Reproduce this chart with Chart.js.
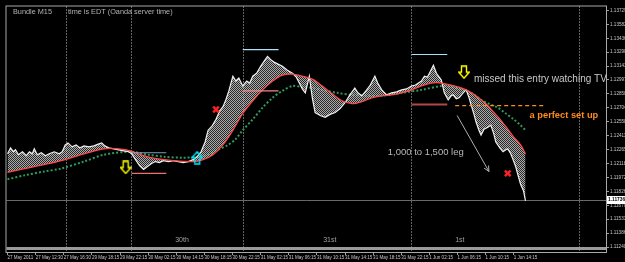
<!DOCTYPE html>
<html>
<head>
<meta charset="utf-8">
<script src="https://cdn.jsdelivr.net/npm/chart.js@4.4.0/dist/chart.umd.min.js"></script>
<style>
html, body { margin: 0; padding: 0; background: #000; }
#wrap { width: 625px; height: 262px; }
</style>
</head>
<body>
<div id="wrap"><canvas id="chart" width="625" height="262"></canvas></div>
<script>
// x axis: one label every 16 bars (M15 chart)
const timeLabels = ["27 May 2011", "27 May 12:30", "27 May 16:30", "29 May 18:15", "29 May 22:15",
    "30 May 02:15", "30 May 14:15", "30 May 18:15", "30 May 22:15", "31 May 02:15", "31 May 06:15",
    "31 May 10:15", "31 May 14:15", "31 May 18:15", "31 May 22:15", "1 Jun 02:15", "1 Jun 06:15",
    "1 Jun 10:15", "1 Jun 14:15"];
const priceTicks = [1.11240, 1.11386, 1.11533, 1.11679, 1.11826, 1.11972, 1.12118, 1.12265, 1.12411,
    1.12558, 1.12704, 1.12850, 1.12997, 1.13143, 1.13290, 1.13436, 1.13582, 1.13729];

// price (fast line) - bar index / price
const priceBars = [0, 1.7, 3.4, 4.5, 6.2, 8.5, 10.7, 12.4, 14.1, 15.2, 16.9, 19.2, 21.5, 23.7, 26.5, 29.4,
    31.1, 32.8, 34.4, 36.7, 39, 41.2, 43.5, 46.3, 49.1, 52, 53.6, 55.3, 57.6, 60.4, 63.2, 66.1, 68.9, 70.6,
    72.8, 75.1, 77.4, 79.6, 81.9, 84.1, 86.4, 88.7, 91.5, 94.3, 97.1, 100, 102.8, 105.6, 107.9, 110.1, 112.4,
    114.1, 116.3, 118.6, 120.8, 122.6, 124.2, 125.9, 128.2, 129.9, 131.6, 133.8, 136.1, 137.8, 139.5, 141.7,
    144, 146.3, 147.9, 149.6, 151.9, 154.2, 156.4, 159.2, 162.1, 164.3, 166, 167.7, 169.4, 171.7, 173.4, 175,
    177.9, 180.7, 183.5, 186.4, 189.2, 192, 194.8, 197.6, 199.3, 201.6, 203.9, 206.1, 209, 210.6, 212.9,
    215.7, 218.5, 221.4, 224.2, 227, 229.8, 232.1, 233.8, 235.5, 237.2, 238.9, 240.6, 242.3, 244, 245.6,
    246.8, 248.5, 250.7, 252.4, 253.5, 255.3, 256.9, 259.2, 260.9, 262.6, 263.7, 265.4, 266.6, 268.2, 269.4,
    271.1, 273.3, 275, 276.7, 277.8, 280.1, 281.9, 283.5, 284.6, 286.3, 287.4, 289.1, 290.3, 291.9, 293.6, 294.7];
const priceVals = [1.12221, 1.12283, 1.12242, 1.12263, 1.12211, 1.12242, 1.12201, 1.12242, 1.12221, 1.12273,
    1.12211, 1.12232, 1.12201, 1.12221, 1.12242, 1.12221, 1.12242, 1.12314, 1.12335, 1.12294, 1.12314,
    1.12283, 1.12304, 1.12294, 1.12304, 1.12325, 1.12335, 1.12304, 1.12283, 1.12273, 1.12263, 1.12252,
    1.12242, 1.12221, 1.12159, 1.12097, 1.12056, 1.12087, 1.12118, 1.12139, 1.12128, 1.12149, 1.12139,
    1.12149, 1.12139, 1.12128, 1.12139, 1.12159, 1.12190, 1.12242, 1.12345, 1.12469, 1.12511, 1.12583,
    1.12676, 1.12717, 1.12789, 1.12882, 1.13037, 1.12986, 1.13017, 1.12934, 1.12986, 1.12965, 1.13037,
    1.13068, 1.13141, 1.13203, 1.13244, 1.13213, 1.13182, 1.13161, 1.13141, 1.13099, 1.13068, 1.13027,
    1.12965, 1.12903, 1.12862, 1.13037, 1.12810, 1.12655, 1.12624, 1.12604, 1.12635, 1.12655, 1.12697,
    1.12758, 1.12841, 1.12913, 1.12862, 1.12831, 1.12882, 1.12934, 1.13037, 1.12965, 1.12893, 1.12841,
    1.12862, 1.12872, 1.12893, 1.12903, 1.12934, 1.12944, 1.12965, 1.12986, 1.13037, 1.13027, 1.13089,
    1.13151, 1.13068, 1.13027, 1.12996, 1.12862, 1.12789, 1.12831, 1.12841, 1.12800, 1.12810, 1.12862,
    1.12893, 1.12810, 1.12738, 1.12635, 1.12552, 1.12469, 1.12418, 1.12480, 1.12500, 1.12521, 1.12428,
    1.12345, 1.12283, 1.12242, 1.12263, 1.12273, 1.12221, 1.12170, 1.12087, 1.12004, 1.11901, 1.11829, 1.11726];

// slow red average
const redBars = [0, 9.6, 20.9, 30.5, 43.5, 54.8, 63.2, 70, 77.4, 84.7, 94.3, 105.6, 111.2, 116.9, 122.5,
    128.2, 133.8, 139.5, 145.1, 150.8, 156.4, 162.1, 167.7, 173.4, 179, 184.7, 190.3, 196, 201.6, 207.2,
    212.9, 218.5, 224.2, 229.8, 235.5, 241.1, 246.8, 254.1, 260.9, 264.8, 269.4, 273.3, 276.7, 280.7, 284.6,
    288, 291.9, 294.7];
const redVals = [1.12025, 1.12066, 1.12108, 1.12149, 1.12221, 1.12273, 1.12273, 1.12252, 1.12201, 1.12170,
    1.12149, 1.12139, 1.12159, 1.12211, 1.12314, 1.12469, 1.12645, 1.12779, 1.12893, 1.12986, 1.13048,
    1.13058, 1.13037, 1.13006, 1.12934, 1.12851, 1.12779, 1.12748, 1.12769, 1.12810, 1.12831, 1.12841,
    1.12862, 1.12893, 1.12934, 1.12965, 1.12965, 1.12934, 1.12893, 1.12851, 1.12789, 1.12727, 1.12655,
    1.12573, 1.12480, 1.12397, 1.12314, 1.12221];

// green dotted average
const greenBars = [0, 9.6, 20.9, 30.5, 43.5, 54.8, 70, 80.2, 88.7, 100, 108.4, 114.1, 119.7, 125.4, 129.3,
    133.8, 139.5, 145.1, 150.8, 156.4, 162.1, 167.7, 173.4, 179, 187.5, 196, 204.4, 212.9, 224.2, 235.5,
    246.8, 252.4, 259.7, 264.8, 269.4, 275, 278.9, 283.5, 288, 291.9, 294.7];
const greenVals = [1.11953, 1.11994, 1.12035, 1.12066, 1.12139, 1.12211, 1.12242, 1.12211, 1.12190, 1.12180,
    1.12190, 1.12211, 1.12263, 1.12314, 1.12366, 1.12469, 1.12583, 1.12707, 1.12810, 1.12882, 1.12934,
    1.12924, 1.12913, 1.12893, 1.12862, 1.12841, 1.12831, 1.12831, 1.12862, 1.12893, 1.12934, 1.12924,
    1.12893, 1.12851, 1.12789, 1.12738, 1.12707, 1.12645, 1.12583, 1.12521, 1.12469];

// hand drawn levels
const levelFrom = [70.6, 70.6, 133.8, 133.8, 229.8, 229.8, 254.7];
const levelTo = [90.3, 90.3, 154.2, 154.2, 250.2, 250.2, 306.1];
const levelPrice = [1.12232, 1.12015, 1.13316, 1.12882, 1.13265, 1.12738, 1.12727];
const levelColors = ["#7f9fb8", "#f07070", "#a8e0f8", "#f08888", "#a8e0f8", "#b04848", "#ff8c1a"];

const crossBars = [118.6, 284.6];
const crossVals = [1.12686, 1.12015];
const downBars = [67.2, 259.7];
const downVals = [1.12077, 1.13079];
const upBars = [107.9];
const upVals = [1.12180];

const separatorBars = [33.3, 70.0, 133.8, 229.8, 325.2];
const dayNames = ["30th", "31st", "1st"];
const dayBars = [95.4, 179.6, 254.7];

const noteTexts = ["missed this entry watching TV", "a perfect set up", "1,000 to 1,500 leg"];
const noteBars = [265.4, 297.0, 216.3];
const noteVals = [1.13006, 1.12624, 1.12232];

const legFrom = [255.8, 1.12624];
const legTo = [273.9, 1.12035];
const lastPrice = 1.11736;

const FONT = "'Liberation Sans', Arial, sans-serif";

function pts(xs, ys) {
    return xs.map((x, i) => ({ x: x, y: ys[i] }));
}

function arrowIcon(color, up) {
    const c = document.createElement("canvas");
    c.width = 12; c.height = 14;
    const g = c.getContext("2d");
    if (up) { g.translate(0, 14); g.scale(1, -1); }
    g.strokeStyle = color;
    g.lineWidth = 1.4;
    g.beginPath();
    g.moveTo(3.5, 1); g.lineTo(8.5, 1); g.lineTo(8.5, 7); g.lineTo(11.3, 7);
    g.lineTo(6, 13); g.lineTo(0.7, 7); g.lineTo(3.5, 7); g.closePath();
    g.stroke();
    return c;
}

// ribbon texture: thin light strands close together
function ribbonPattern() {
    const c = document.createElement("canvas");
    c.width = 4; c.height = 4;
    const g = c.getContext("2d");
    g.fillStyle = "rgba(80,80,80,0.5)";
    g.fillRect(0, 0, 4, 4);
    g.fillStyle = "rgba(215,215,215,0.75)";
    for (let i = 0; i < 4; i++) g.fillRect(i, (i + 1) % 4, 1, 1);
    for (let i = 0; i < 4; i++) g.fillRect(i, (i + 3) % 4, 1, 1);
    return g.createPattern(c, "repeat");
}

const levelSets = levelFrom.map((f, i) => ({
    data: [{ x: f, y: levelPrice[i] }, { x: levelTo[i], y: levelPrice[i] }],
    borderColor: levelColors[i],
    borderWidth: i === 5 ? 2 : 1.2,
    borderDash: i === 6 ? [4, 3] : [],
    pointRadius: 0,
    order: 2
}));

const decor = {
    id: "decor",
    beforeDatasetsDraw(chart) {
        const { ctx, chartArea: a, scales: { x, y } } = chart;
        ctx.save();
        // day separators
        ctx.strokeStyle = "#c8c8c8";
        ctx.lineWidth = 1;
        ctx.setLineDash([1, 2]);
        separatorBars.forEach(b => {
            const px = Math.round(x.getPixelForValue(b)) + 0.5;
            ctx.beginPath(); ctx.moveTo(px, a.top); ctx.lineTo(px, a.bottom); ctx.stroke();
        });
        ctx.setLineDash([]);
        // current price line
        const py = Math.round(y.getPixelForValue(lastPrice)) + 0.5;
        ctx.strokeStyle = "#6a6a6a";
        ctx.beginPath(); ctx.moveTo(a.left, py); ctx.lineTo(a.right, py); ctx.stroke();
        // bottom separator bar
        ctx.fillStyle = "#9a9a9a";
        ctx.fillRect(a.left, a.bottom - 5, a.right - a.left, 3);
        // day names
        ctx.fillStyle = "#a0a0a0";
        ctx.font = "7px " + FONT;
        ctx.textBaseline = "middle";
        dayNames.forEach((d, i) => ctx.fillText(d, x.getPixelForValue(dayBars[i]), 240));
        ctx.restore();
    },
    afterDatasetsDraw(chart) {
        const { ctx, chartArea: a, scales: { x, y } } = chart;
        ctx.save();
        // frame
        ctx.strokeStyle = "#a8a8a8";
        ctx.lineWidth = 1;
        ctx.strokeRect(a.left - 0.5, a.top - 0.5, a.right - a.left + 1, a.bottom - a.top + 1);
        // titles
        ctx.fillStyle = "#b4b4b4";
        ctx.font = "7.3px " + FONT;
        ctx.textBaseline = "middle";
        ctx.fillText("Bundle M15", 13, 12);
        ctx.fillText("time is EDT (Oanda server time)", 68, 12);
        // notes
        const styles = [
            { font: "10px " + FONT, color: "#c8c8c8" },
            { font: "bold 9.3px " + FONT, color: "#ff8c1a" },
            { font: "9.5px " + FONT, color: "#b8b8b8" }
        ];
        noteTexts.forEach((t, i) => {
            ctx.font = styles[i].font;
            ctx.fillStyle = styles[i].color;
            ctx.fillText(t, x.getPixelForValue(noteBars[i]), y.getPixelForValue(noteVals[i]));
        });
        // leg arrow
        const x1 = x.getPixelForValue(legFrom[0]), y1 = y.getPixelForValue(legFrom[1]);
        const x2 = x.getPixelForValue(legTo[0]), y2 = y.getPixelForValue(legTo[1]);
        ctx.strokeStyle = "#b0b0b0";
        ctx.lineWidth = 1;
        ctx.beginPath(); ctx.moveTo(x1, y1); ctx.lineTo(x2, y2); ctx.stroke();
        const ang = Math.atan2(y2 - y1, x2 - x1);
        ctx.beginPath();
        ctx.moveTo(x2 - 6 * Math.cos(ang - 0.45), y2 - 6 * Math.sin(ang - 0.45));
        ctx.lineTo(x2, y2);
        ctx.lineTo(x2 - 6 * Math.cos(ang + 0.45), y2 - 6 * Math.sin(ang + 0.45));
        ctx.stroke();
        // current price box
        const py = Math.round(y.getPixelForValue(lastPrice));
        ctx.fillStyle = "#ffffff";
        ctx.fillRect(a.right + 1, py - 4, 625 - a.right - 1, 8);
        ctx.fillStyle = "#000";
        ctx.font = "bold 4.8px " + FONT;
        ctx.fillText(lastPrice.toFixed(5), a.right + 2, py);
        ctx.restore();
    }
};

new Chart(document.getElementById("chart"), {
    type: "line",
    data: {
        datasets: [
            {
                data: pts(priceBars, priceVals),
                borderColor: "#f0f0f0",
                borderWidth: 1.2,
                pointRadius: 0,
                fill: 1,
                backgroundColor: ribbonPattern(),
                order: 4
            },
            {
                data: pts(redBars, redVals),
                borderColor: "#ff4a4a",
                borderWidth: 1.3,
                pointRadius: 0,
                tension: 0.3,
                order: 3
            },
            {
                data: pts(greenBars, greenVals),
                borderColor: "#2f9a5c",
                borderWidth: 2,
                borderDash: [2, 2],
                pointRadius: 0,
                tension: 0.3,
                order: 5
            },
            ...levelSets,
            {
                type: "scatter",
                data: pts(crossBars, crossVals),
                pointStyle: "crossRot",
                pointRadius: 4,
                borderColor: "#ff2020",
                borderWidth: 2.5,
                order: 1
            },
            {
                type: "scatter",
                data: pts(downBars, downVals),
                pointStyle: arrowIcon("#ffff00", false),
                order: 1
            },
            {
                type: "scatter",
                data: pts(upBars, upVals),
                pointStyle: arrowIcon("#00e5ff", true),
                order: 1
            }
        ]
    },
    options: {
        responsive: false,
        animation: false,
        layout: { padding: { left: 2, top: 2, right: 0, bottom: 0 } },
        plugins: { legend: { display: false }, tooltip: { enabled: false } },
        scales: {
            x: {
                type: "linear",
                min: -0.6,
                max: 340.5,
                afterFit: s => { s.height = 10; },
                afterBuildTicks: s => { s.ticks = timeLabels.map((t, i) => ({ value: i * 16 })); },
                ticks: {
                    autoSkip: false,
                    maxRotation: 0,
                    align: "start",
                    padding: 0,
                    color: "#c8c8c8",
                    font: { family: FONT, size: 4.5 },
                    callback: (v, i) => timeLabels[i]
                },
                grid: { drawOnChartArea: false, tickLength: 3, color: "#a0a0a0" },
                border: { display: false }
            },
            y: {
                position: "right",
                min: 1.11188,
                max: 1.13770,
                afterFit: s => { s.width = 19; },
                afterBuildTicks: s => { s.ticks = priceTicks.map(v => ({ value: v })); },
                ticks: {
                    padding: 1,
                    color: "#c8c8c8",
                    font: { family: FONT, size: 4.6 },
                    callback: v => v.toFixed(5)
                },
                grid: { drawOnChartArea: false, tickLength: 3, color: "#a0a0a0" },
                border: { display: false }
            }
        }
    },
    plugins: [decor]
});
</script>
</body>
</html>
